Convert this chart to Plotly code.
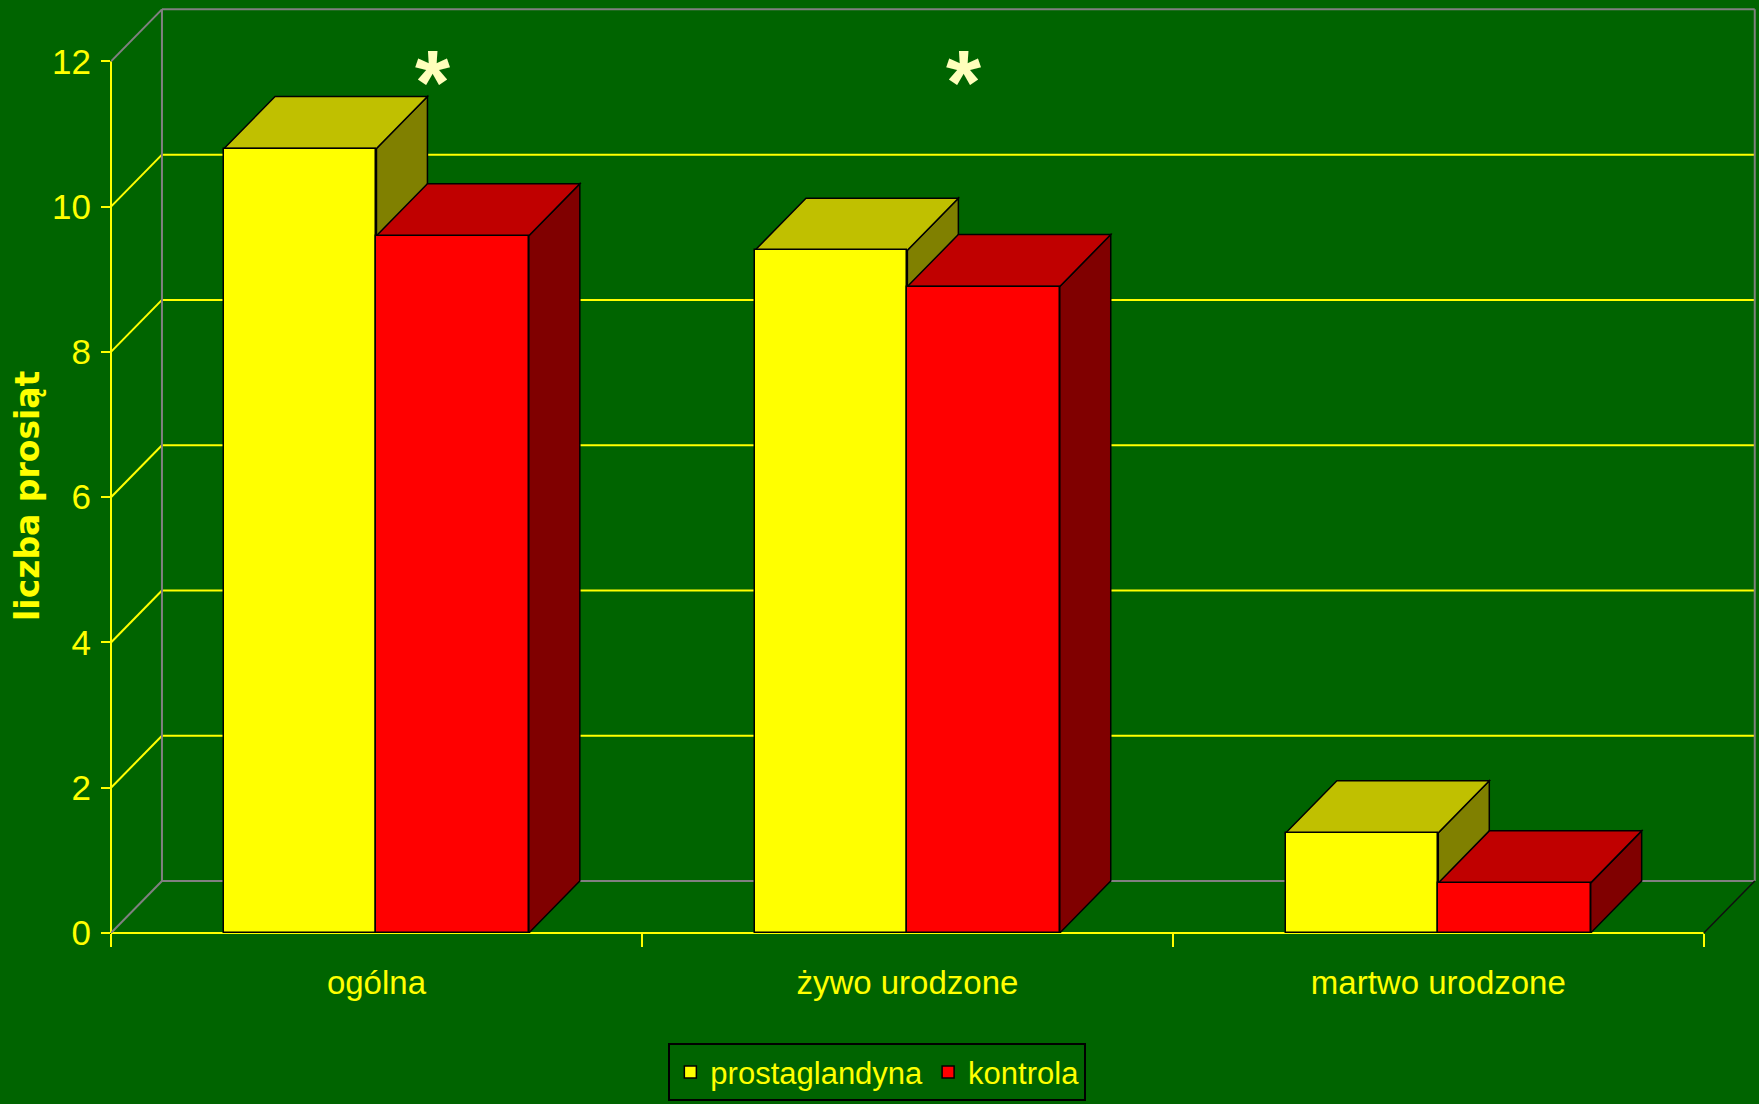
import plotly.graph_objects as go

# ---- data -------------------------------------------------------------
categories = ["ogólna", "żywo urodzone", "martwo urodzone"]
prostaglandyna = [10.8, 9.4, 1.38]
kontrola = [9.6, 8.9, 0.69]
significant = [True, True, False]          # groups marked with "*"
y_tick_values = [0, 2, 4, 6, 8, 10, 12]
y_title = "liczba prosiąt"

# ---- style ------------------------------------------------------------
BG = "#006400"
YELLOW = "#FFFF00"
GREY = "#808080"
STAR = "#FFFFBB"
SANS = "Liberation Sans Narrow, Liberation Sans, Arial, sans-serif"

BAR_W = 0.287      # width of one bar, in category units
DX = 0.096         # depth offset of the 3-D box, x direction (category units)
DY = 0.716         # depth offset of the 3-D box, y direction (value units)
Y_TOP = 12         # top of the value scale

series = [
    dict(name="prostaglandyna", values=prostaglandyna, offset=-BAR_W,
         front="#FFFF00", top="#C0C000", side="#808000"),
    dict(name="kontrola", values=kontrola, offset=0.0,
         front="#FF0000", top="#C00000", side="#800000"),
]

x_pos = list(range(len(categories)))
x_lo, x_hi = -0.5, len(categories) - 0.5

fig = go.Figure()

# front faces of the boxes
for s in series:
    fig.add_trace(go.Bar(
        x=x_pos, y=s["values"], name=s["name"],
        width=BAR_W, offset=s["offset"],
        marker=dict(color=s["front"], line=dict(color="black", width=1.5)),
    ))

shapes = []


def seg(x0, y0, x1, y1, color, width=2, xref="x", yref="y"):
    return dict(type="line", xref=xref, yref=yref, x0=x0, y0=y0, x1=x1, y1=y1,
                line=dict(color=color, width=width), layer="below")


# side wall / back wall gridlines
for v in y_tick_values[1:-1]:
    shapes.append(seg(x_lo, v, x_lo + DX, v + DY, YELLOW))
    shapes.append(seg(x_lo + DX, v + DY, x_hi + DX, v + DY, YELLOW))

# back wall and floor frame
shapes += [
    seg(x_lo, 0, x_lo + DX, DY, GREY),
    seg(x_lo + DX, DY, x_hi + DX, DY, GREY),
    seg(x_lo, Y_TOP, x_lo + DX, Y_TOP + DY, GREY),
    seg(x_lo + DX, DY, x_lo + DX, Y_TOP + DY, GREY),
    seg(x_lo + DX, Y_TOP + DY, x_hi + DX, Y_TOP + DY, GREY),
    seg(x_hi + DX, DY, x_hi + DX, Y_TOP + DY, GREY),
    seg(x_hi, 0, x_hi + DX, DY, "#101010", width=1.5),
]


def path(points):
    return "M " + " L ".join(f"{px},{py}" for px, py in points) + " Z"


# top and right faces of every box, drawn from the same values as the bars
for i in x_pos:
    for s in series:
        v = s["values"][i]
        x0 = i + s["offset"]
        x1 = x0 + BAR_W
        side = [(x1, 0), (x1, v), (x1 + DX, v + DY), (x1 + DX, DY)]
        top = [(x0, v), (x1, v), (x1 + DX, v + DY), (x0 + DX, v + DY)]
        for pts, col in ((side, s["side"]), (top, s["top"])):
            shapes.append(dict(type="path", xref="x", yref="y", path=path(pts),
                               fillcolor=col, line=dict(color="black", width=1.5),
                               layer="below"))

# front axes lines
shapes.append(seg(0, 0, 0, Y_TOP, YELLOW, xref="paper"))
shapes.append(seg(x_lo, 0, x_hi, 0, YELLOW, yref="paper"))

annotations = []
for i, flag in zip(x_pos, significant):
    if flag:
        annotations.append(dict(
            x=i + DX + 0.01, y=11.9, xref="x", yref="y", text="*", showarrow=False,
            xanchor="center", yanchor="middle", yshift=-14,
            font=dict(family="Liberation Sans", size=90, color=STAR, weight="bold"),
        ))

annotations.append(dict(
    x=-0.051, y=6.03, xref="paper", yref="y", text=y_title, textangle=-90,
    showarrow=False, xanchor="center", yanchor="middle",
    font=dict(family="DejaVu Sans", size=33, color=YELLOW, weight="bold"),
))

fig.update_layout(
    width=1759, height=1104, autosize=False,
    paper_bgcolor=BG, plot_bgcolor=BG,
    margin=dict(l=111, r=0, t=4.6, b=171, pad=0),
    barmode="overlay", bargap=0,
    shapes=shapes, annotations=annotations,
    showlegend=True,
    legend=dict(
        orientation="h", x=0.3382, xanchor="left", y=-0.1188, yanchor="top",
        bgcolor=BG, bordercolor="black", borderwidth=2,
        font=dict(family=SANS, size=31, color=YELLOW),
    ),
    xaxis=dict(
        range=[x_lo, x_hi + 0.104], showgrid=False, zeroline=False, showline=False,
        tickmode="array", tickvals=x_pos, ticktext=categories, ticks="",
        tickfont=dict(family=SANS, size=33, color=YELLOW),
        ticklabelstandoff=27,
        minor=dict(tickmode="array", tickvals=[x_lo + k for k in range(len(categories) + 1)],
                   ticks="outside", ticklen=13, tickwidth=2, tickcolor=YELLOW, showgrid=False),
        automargin=False, fixedrange=True,
    ),
    yaxis=dict(
        range=[0, Y_TOP + DY + 0.06], showgrid=False, zeroline=False, showline=False,
        tickmode="array", tickvals=y_tick_values,
        ticks="outside", ticklen=9, tickwidth=2, tickcolor=YELLOW,
        tickfont=dict(family=SANS, size=35, color=YELLOW),
        ticklabelstandoff=3,
        automargin=False, fixedrange=True,
    ),
)

fig.write_html("out.html")
